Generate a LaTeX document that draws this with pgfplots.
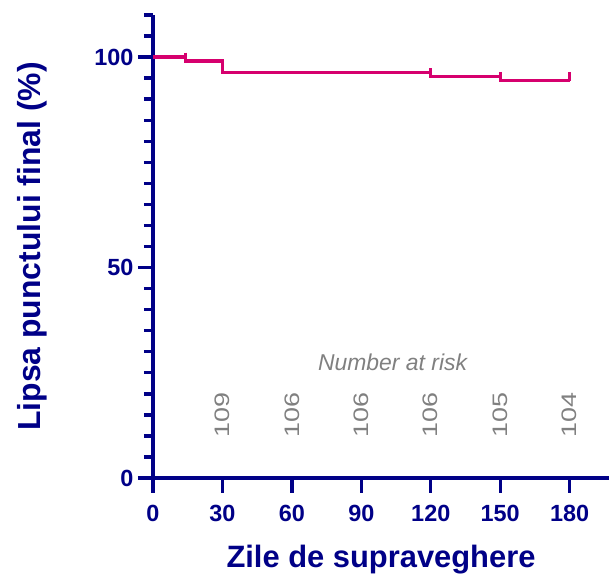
\documentclass[border=0pt]{standalone}
\usepackage{graphicx}
\usepackage{pgfplots}
\pgfplotsset{compat=1.18}
\usepackage{fontspec}
\setmainfont{Liberation Sans}
\definecolor{navy}{RGB}{0,0,135}
\definecolor{km}{RGB}{214,0,110}
\definecolor{risk}{RGB}{128,128,128}
\begin{document}
\begin{tikzpicture}
\begin{axis}[
  scale only axis,
  width=456bp, height=463bp,
  xmin=0, xmax=197, ymin=0, ymax=110,
  axis lines=left,
  axis line style={navy, line width=3.4bp, -},
  xtick={0,30,60,90,120,150,180},
  ytick={0,50,100},
  minor ytick={5,10,...,110},
  every tick/.style={navy, line width=3.4bp},
  every major tick/.append style={navy, line width=3.4bp},
  every minor tick/.append style={navy, line width=3.4bp},
  major tick length=15bp,
  minor tick length=9bp,
  tick align=outside,
  xtick pos=bottom, ytick pos=left,
  ticklabel style={font=\fontsize{23.5}{28}\selectfont\bfseries, text=navy},
  /pgf/number format/assume math mode=true,
  x tick label style={yshift=-9bp},
  y tick label style={xshift=-1bp},
  xlabel={Zile de supraveghere},
  ylabel={Lipsa punctului final (\%)},
  xlabel style={font=\fontsize{31}{36}\selectfont\bfseries, text=navy, yshift=-16bp},
  ylabel style={font=\fontsize{32}{37}\selectfont\bfseries, text=navy, yshift=40bp},
  clip=false,
]
\coordinate (O) at (rel axis cs:0,0);
\addplot[const plot, km, line width=3.2bp] coordinates {
  (0,100) (14,99.08) (30,96.33) (120,95.41) (150,94.5) (180,94.5)
};
\addplot[only marks, mark=|, mark size=4.5bp, km, mark options={line width=3.2bp}] coordinates {
  (14,100) (120,96.3) (150,95.4) (180,95.4)
};
\node[text=risk, font=\fontsize{23}{27}\selectfont\itshape] at (axis cs:103.5,27.5) {Number at risk};
\foreach \xx/\nn in {30/109,60/106,90/106,120/106,150/105,180/104}{
  \edef\tmp{\noexpand\node[text=risk, rotate=90, font=\noexpand\fontsize{27}{31}\noexpand\selectfont] at (axis cs:\xx,15) {\noexpand\scalebox{1}[0.78]{\nn}};}
  \tmp
}
\end{axis}
\pgfresetboundingbox
\path (O) ++(-153bp,-97bp) rectangle ++(609bp,575bp);
\end{tikzpicture}
\end{document}
